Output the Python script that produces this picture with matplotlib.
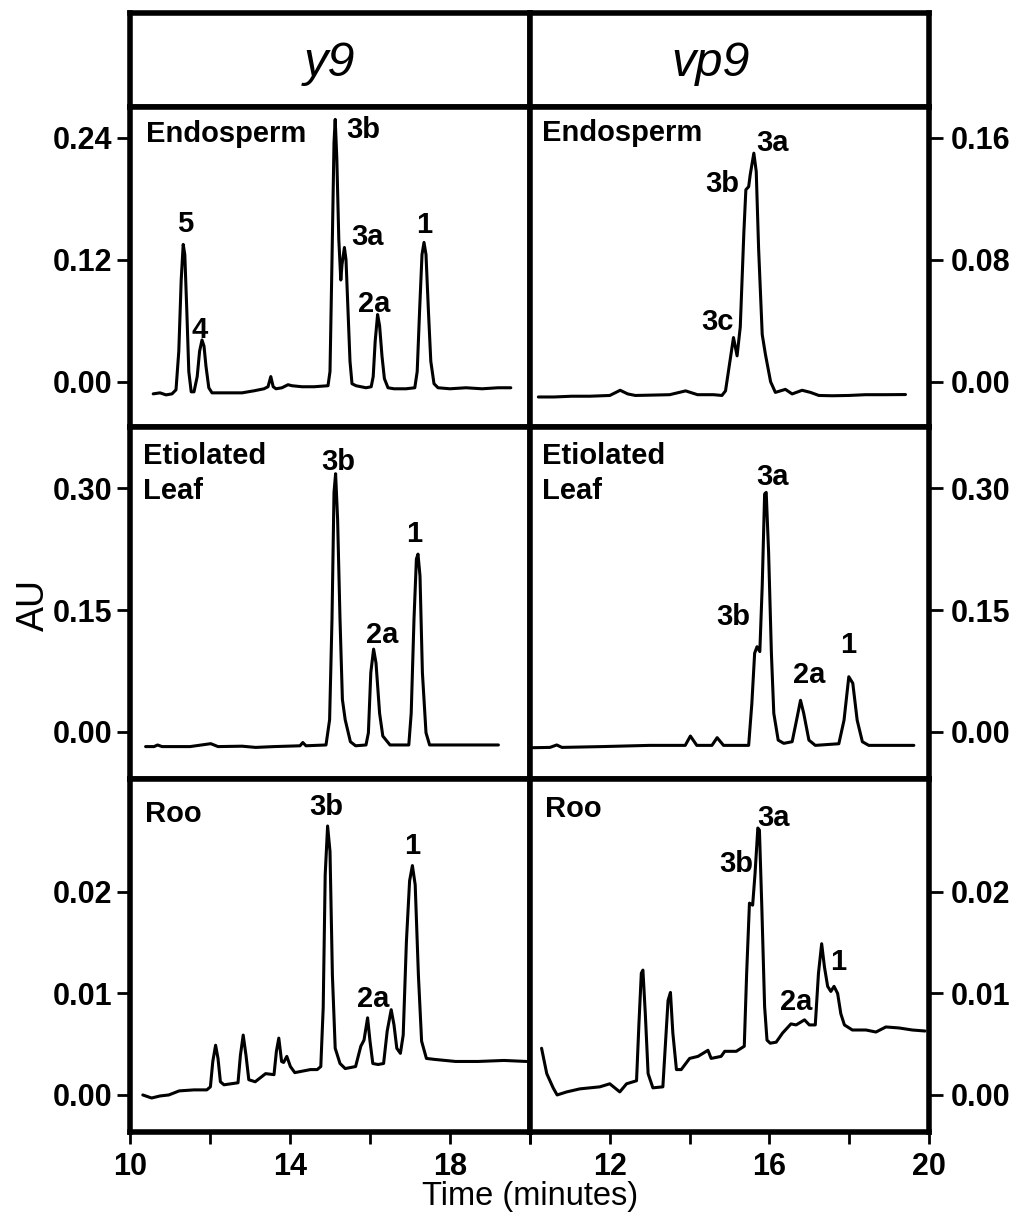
import matplotlib
matplotlib.use("Agg")
import matplotlib.pyplot as plt

plt.rcParams['font.family'] = ['Liberation Sans', 'DejaVu Sans']

# ---------------- data (digitised traces) ----------------
# y9 Endosperm
t_y9_endo = [10.58, 10.75, 10.9, 11.05, 11.15, 11.22, 11.28, 11.33, 11.37, 11.42, 11.47, 11.53, 11.60,
             11.68, 11.74, 11.80, 11.85, 11.90, 11.97, 12.05, 12.4, 12.8, 13.1, 13.35, 13.45, 13.52,
             13.58, 13.65, 13.8, 13.95, 14.05, 14.3, 14.6, 14.95, 15.0, 15.05, 15.10, 15.13, 15.17,
             15.22, 15.27, 15.30, 15.36, 15.40, 15.45, 15.50, 15.55, 15.65, 15.9, 16.03, 16.08, 16.13,
             16.19, 16.24, 16.30, 16.36, 16.45, 16.6, 16.9, 17.12, 17.18, 17.24, 17.30, 17.35, 17.40,
             17.46, 17.52, 17.60, 17.70, 18.0, 18.4, 18.8, 19.2, 19.52]
a_y9_endo = [-0.012, -0.011, -0.013, -0.012, -0.008, 0.03, 0.10, 0.135, 0.125, 0.07, 0.01, -0.010, -0.010,
             0.005, 0.03, 0.041, 0.035, 0.015, -0.006, -0.011, -0.011, -0.011, -0.009, -0.007, -0.005, 0.005,
             -0.005, -0.007, -0.006, -0.003, -0.004, -0.005, -0.005, -0.004, 0.01, 0.12, 0.235, 0.258, 0.22,
             0.14, 0.10, 0.115, 0.132, 0.12, 0.07, 0.02, -0.002, -0.004, -0.006, -0.005, 0.005, 0.04,
             0.066, 0.055, 0.025, 0.003, -0.006, -0.007, -0.007, -0.006, 0.01, 0.07, 0.125, 0.137, 0.125,
             0.07, 0.02, -0.002, -0.006, -0.007, -0.006, -0.007, -0.006, -0.006]

# vp9 Endosperm
t_vp9_endo = [10.21, 10.6, 11.05, 11.5, 12.0, 12.26, 12.45, 12.64, 13.0, 13.5, 13.9, 14.2, 14.6, 14.81,
              14.9, 15.02, 15.10, 15.19, 15.27, 15.36, 15.41, 15.48, 15.52, 15.61, 15.67, 15.73, 15.82,
              15.90, 16.03, 16.15, 16.4, 16.57, 16.82, 17.03, 17.24, 17.57, 17.99, 18.41, 18.9, 19.41]
a_vp9_endo = [-0.010, -0.010, -0.0095, -0.0095, -0.009, -0.0056, -0.008, -0.009, -0.0088, -0.0085, -0.006,
              -0.0085, -0.0085, -0.009, -0.006, 0.015, 0.029, 0.017, 0.036, 0.098, 0.126, 0.128, 0.136,
              0.150, 0.138, 0.087, 0.031, 0.018, 0.0, -0.007, -0.005, -0.008, -0.0056, -0.007, -0.009,
              -0.0092, -0.009, -0.0085, -0.0085, -0.0084]

# y9 Etiolated leaf
t_y9_leaf = [10.39, 10.6, 10.69, 10.8, 11.5, 12.02, 12.2, 12.8, 13.14, 13.6, 14.25, 14.32, 14.4, 14.9,
             14.99, 15.05, 15.10, 15.14, 15.19, 15.25, 15.31, 15.38, 15.51, 15.64, 15.9, 15.96, 16.02,
             16.09, 16.15, 16.24, 16.32, 16.5, 16.97, 17.03, 17.10, 17.16, 17.20, 17.25, 17.31, 17.40,
             17.49, 18.0, 18.6, 19.21]
a_y9_leaf = [-0.018, -0.018, -0.016, -0.018, -0.018, -0.0144, -0.018, -0.0175, -0.019, -0.018, -0.017,
             -0.013, -0.017, -0.016, 0.015, 0.139, 0.295, 0.318, 0.262, 0.139, 0.04, 0.015, -0.012, -0.017,
             -0.016, -0.001, 0.073, 0.102, 0.085, 0.023, -0.005, -0.016, -0.016, 0.023, 0.139, 0.213,
             0.219, 0.192, 0.073, -0.001, -0.016, -0.016, -0.016, -0.016]

# vp9 Etiolated leaf
t_vp9_leaf = [10.04, 10.5, 10.67, 10.8, 11.8, 13.0, 13.89, 14.02, 14.18, 14.56, 14.69, 14.85, 15.48,
              15.56, 15.63, 15.69, 15.76, 15.82, 15.88, 15.92, 15.98, 16.05, 16.11, 16.22, 16.36, 16.57,
              16.68, 16.78, 16.86, 16.99, 17.15, 17.74, 17.87, 17.99, 18.09, 18.20, 18.33, 18.49, 19.0,
              19.62]
a_vp9_leaf = [-0.0194, -0.019, -0.016, -0.019, -0.018, -0.0165, -0.0165, -0.005, -0.0165, -0.0165, -0.007,
              -0.0165, -0.0165, 0.035, 0.097, 0.105, 0.099, 0.18, 0.293, 0.295, 0.221, 0.097, 0.023,
              -0.01, -0.014, -0.012, 0.0144, 0.039, 0.023, -0.01, -0.0165, -0.0145, 0.0144, 0.068, 0.060,
              0.0144, -0.012, -0.0165, -0.0165, -0.0165]

# y9 Root
t_y9_root = [10.32, 10.54, 10.75, 10.97, 11.23, 11.6, 11.92, 12.01, 12.07, 12.14, 12.20, 12.26, 12.35,
             12.7, 12.76, 12.83, 12.90, 12.97, 13.13, 13.39, 13.6, 13.66, 13.72, 13.79, 13.84, 13.92,
             14.01, 14.12, 14.25, 14.51, 14.68, 14.77, 14.83, 14.88, 14.94, 15.00, 15.06, 15.13, 15.25,
             15.38, 15.64, 15.77, 15.85, 15.94, 16.00, 16.07, 16.2, 16.34, 16.43, 16.53, 16.60, 16.67,
             16.76, 16.83, 16.91, 16.99, 17.06, 17.13, 17.21, 17.29, 17.41, 17.62, 18.14, 18.7, 19.35,
             19.91]
a_y9_root = [0.0000, -0.0003, -0.0001, 0.0000, 0.0004, 0.0005, 0.0005, 0.0008, 0.0033, 0.0049, 0.0036,
             0.0013, 0.0010, 0.0012, 0.0039, 0.0059, 0.0039, 0.0015, 0.0013, 0.0021, 0.0020, 0.0043,
             0.0056, 0.0033, 0.0032, 0.0038, 0.0028, 0.0022, 0.0023, 0.0025, 0.0025, 0.0028, 0.0086,
             0.0217, 0.0265, 0.0240, 0.0118, 0.0046, 0.0031, 0.0026, 0.0028, 0.0048, 0.0054, 0.0076,
             0.0053, 0.0031, 0.0030, 0.0031, 0.0063, 0.0084, 0.0069, 0.0046, 0.0041, 0.0059, 0.0151,
             0.0211, 0.0226, 0.0207, 0.0118, 0.0053, 0.0036, 0.0035, 0.0033, 0.0033, 0.0034, 0.0033]

# vp9 Root
t_vp9_root = [10.29, 10.42, 10.58, 10.68, 10.92, 11.25, 11.75, 12.0, 12.25, 12.42, 12.67, 12.73, 12.79,
              12.83, 12.89, 12.96, 13.08, 13.33, 13.40, 13.46, 13.52, 13.58, 13.67, 13.79, 14.0, 14.21,
              14.46, 14.54, 14.79, 14.88, 15.17, 15.37, 15.43, 15.50, 15.58, 15.64, 15.71, 15.75, 15.81,
              15.88, 15.94, 16.02, 16.17, 16.33, 16.54, 16.67, 16.88, 17.0, 17.15, 17.23, 17.31, 17.38,
              17.46, 17.54, 17.62, 17.71, 17.79, 17.88, 18.08, 18.42, 18.67, 18.92, 19.25, 19.58, 19.9]
a_vp9_root = [0.0046, 0.0021, 0.0007, 0.0000, 0.0003, 0.0006, 0.0008, 0.0011, 0.0003, 0.0011, 0.0014,
              0.0070, 0.0120, 0.0123, 0.0080, 0.0021, 0.0007, 0.0008, 0.0054, 0.0093, 0.0101, 0.0061,
              0.0025, 0.0025, 0.0036, 0.0038, 0.0044, 0.0036, 0.0038, 0.0043, 0.0043, 0.0048, 0.0120,
              0.0189, 0.0187, 0.0218, 0.0263, 0.0261, 0.0185, 0.0087, 0.0054, 0.0051, 0.0052, 0.0061,
              0.0070, 0.0069, 0.0074, 0.0069, 0.0069, 0.0120, 0.0149, 0.0126, 0.0107, 0.0102, 0.0107,
              0.0100, 0.0080, 0.0069, 0.0064, 0.0064, 0.0062, 0.0067, 0.0066, 0.0064, 0.0063]

# axis ranges / ticks
xticks = [10, 12, 14, 16, 18, 20]
ylims = [[(-0.0446, 0.2702), (-0.0297, 0.1803)],
         [(-0.0579, 0.3755), (-0.0579, 0.3755)],
         [(-0.00365, 0.03113), (-0.00365, 0.03113)]]
yticks = [[[0.0, 0.12, 0.24], [0.0, 0.08, 0.16]],
          [[0.0, 0.15, 0.30], [0.0, 0.15, 0.30]],
          [[0.0, 0.01, 0.02], [0.0, 0.01, 0.02]]]

traces = [[(t_y9_endo, a_y9_endo), (t_vp9_endo, a_vp9_endo)],
          [(t_y9_leaf, a_y9_leaf), (t_vp9_leaf, a_vp9_leaf)],
          [(t_y9_root, a_y9_root), (t_vp9_root, a_vp9_root)]]

tissue_labels = [["Endosperm", "Endosperm"],
                 ["Etiolated\nLeaf", "Etiolated\nLeaf"],
                 ["Roo", "Roo"]]
tissue_pos = [[(10.4, 0.244), (10.3, 0.163)],
              [(10.32, 0.357), (10.3, 0.357)],
              [(10.38, 0.0277), (10.38, 0.0282)]]

peak_labels = [
    [[("5", 11.37, 0.155), ("4", 11.75, 0.051), ("3b", 15.83, 0.248), ("3a", 15.94, 0.142),
      ("2a", 16.11, 0.076), ("1", 17.36, 0.154)],
     [("3a", 16.08, 0.157), ("3b", 14.81, 0.13), ("3c", 14.71, 0.039)]],
    [[("3b", 15.21, 0.332), ("2a", 16.31, 0.12), ("1", 17.1, 0.244)],
     [("3a", 16.08, 0.314), ("3b", 15.1, 0.142), ("2a", 16.99, 0.07), ("1", 17.97, 0.107)]],
    [[("3b", 14.9, 0.0284), ("2a", 16.09, 0.0095), ("1", 17.06, 0.0245)],
     [("3a", 16.1, 0.0273), ("3b", 15.18, 0.0228), ("2a", 16.67, 0.0092), ("1", 17.73, 0.0131)]],
]

genotypes = ["y9", "vp9"]

# ---------------- layout ----------------
W, H = 1019, 1222
fig = plt.figure(figsize=(W / 100, H / 100), dpi=100)

col_x = [(130, 530), (530, 929)]
header_y = (12.7, 107)
row_y = [(107, 427), (427, 779), (779, 1132)]
header_cx = [329, 711]

LW_FRAME = 4.0
TICK_FS = 22
LAB_FS = 21


def add_ax(x0, x1, y0, y1):
    return fig.add_axes([x0 / W, 1 - y1 / H, (x1 - x0) / W, (y1 - y0) / H])


# headers
for c in range(2):
    ax = add_ax(col_x[c][0], col_x[c][1], header_y[0], header_y[1])
    ax.set_xticks([])
    ax.set_yticks([])
    for s in ax.spines.values():
        s.set_linewidth(LW_FRAME)
    fig.text(header_cx[c] / W, 1 - 63 / H, genotypes[c], ha='center', va='center',
             fontsize=35, style='italic')

for r in range(3):
    for c in range(2):
        ax = add_ax(col_x[c][0], col_x[c][1], row_y[r][0], row_y[r][1])
        t, a = traces[r][c]
        ax.plot(t, a, color='black', lw=2.2, solid_joinstyle='round', solid_capstyle='round')
        ax.set_xlim(10, 20)
        ax.set_ylim(*ylims[r][c])
        for s in ax.spines.values():
            s.set_linewidth(LW_FRAME)
        ax.set_yticks(yticks[r][c])
        ax.set_yticklabels([f"{v:.2f}" for v in yticks[r][c]], fontweight='bold')
        if c == 0:
            ax.yaxis.set_ticks_position('left')
            ax.tick_params(axis='y', direction='out', length=9.5, width=2, pad=3, labelsize=TICK_FS)
        else:
            ax.yaxis.set_ticks_position('right')
            ax.tick_params(axis='y', direction='out', length=10, width=2, pad=6, labelsize=TICK_FS)
        if r == 2:
            ax.set_xticks(xticks)
            if c == 0:
                lbls = [str(v) if v in (10, 14, 18) else "" for v in xticks]
            else:
                lbls = [str(v) if v in (12, 16, 20) else "" for v in xticks]
            ax.set_xticklabels(lbls, fontweight='bold')
            ax.tick_params(axis='x', direction='out', length=8.5, width=2, pad=6, labelsize=TICK_FS)
        else:
            ax.set_xticks([])
        tx, ty = tissue_pos[r][c]
        ax.text(tx, ty, tissue_labels[r][c], ha='left', va='top' if r == 1 else 'center',
                fontsize=LAB_FS, fontweight='bold', linespacing=1.3)
        for lab, lx, ly in peak_labels[r][c]:
            ax.text(lx, ly, lab, ha='center', va='center', fontsize=LAB_FS, fontweight='bold')

fig.text(34 / W, 1 - 605 / H, "AU", rotation=90, ha='center', va='center', fontsize=27)
fig.text(530 / W, 1 - 1196 / H, "Time (minutes)", ha='center', va='center', fontsize=23.5)

fig.savefig("out.png", dpi=100)
